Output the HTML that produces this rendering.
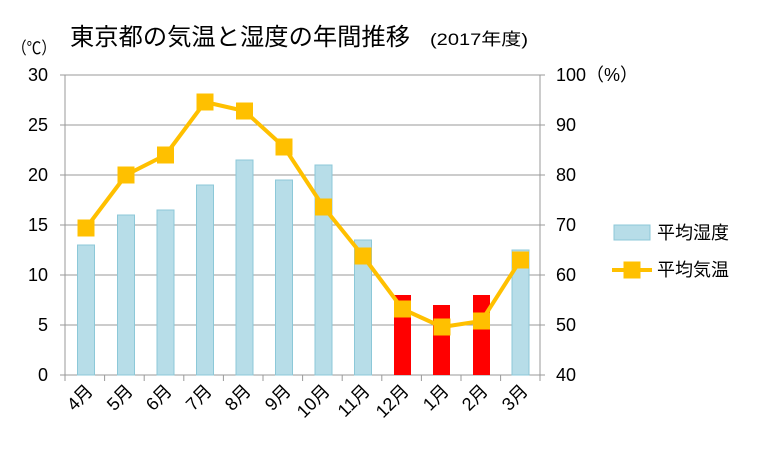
<!DOCTYPE html>
<html><head><meta charset="utf-8"><style>body{margin:0;background:#fff}svg{display:block}text{font-family:"Liberation Sans","Noto Sans CJK JP",sans-serif;fill:#000}</style></head><body>
<svg width="763" height="451" viewBox="0 0 763 451">
<text x="70" y="45" font-size="24" textLength="340" lengthAdjust="spacingAndGlyphs">東京都の気温と湿度の年間推移</text>
<text x="430" y="45" font-size="17" textLength="98" lengthAdjust="spacingAndGlyphs">(2017年度)</text>
<text x="12" y="54" font-size="17" textLength="44" lengthAdjust="spacingAndGlyphs">（℃）</text>
<g stroke="#999" stroke-width="1">
<line x1="65" y1="75" x2="540" y2="75"/><line x1="65" y1="125" x2="540" y2="125"/><line x1="65" y1="175" x2="540" y2="175"/><line x1="65" y1="225" x2="540" y2="225"/><line x1="65" y1="275" x2="540" y2="275"/><line x1="65" y1="325" x2="540" y2="325"/><line x1="65" y1="375" x2="540" y2="375"/>
<line x1="65" y1="75" x2="65" y2="375"/><line x1="540" y1="75" x2="540" y2="375"/>
<line x1="60" y1="75" x2="65" y2="75"/><line x1="60" y1="125" x2="65" y2="125"/><line x1="60" y1="175" x2="65" y2="175"/><line x1="60" y1="225" x2="65" y2="225"/><line x1="60" y1="275" x2="65" y2="275"/><line x1="60" y1="325" x2="65" y2="325"/><line x1="60" y1="375" x2="65" y2="375"/>
<line x1="540" y1="75" x2="545" y2="75"/><line x1="540" y1="125" x2="545" y2="125"/><line x1="540" y1="175" x2="545" y2="175"/><line x1="540" y1="225" x2="545" y2="225"/><line x1="540" y1="275" x2="545" y2="275"/><line x1="540" y1="325" x2="545" y2="325"/><line x1="540" y1="375" x2="545" y2="375"/>
<line x1="65" y1="375" x2="65" y2="381"/><line x1="104.6" y1="375" x2="104.6" y2="381"/><line x1="144.2" y1="375" x2="144.2" y2="381"/><line x1="183.8" y1="375" x2="183.8" y2="381"/><line x1="223.4" y1="375" x2="223.4" y2="381"/><line x1="263" y1="375" x2="263" y2="381"/><line x1="302.6" y1="375" x2="302.6" y2="381"/><line x1="342.2" y1="375" x2="342.2" y2="381"/><line x1="381.8" y1="375" x2="381.8" y2="381"/><line x1="421.4" y1="375" x2="421.4" y2="381"/><line x1="461" y1="375" x2="461" y2="381"/><line x1="500.6" y1="375" x2="500.6" y2="381"/><line x1="540" y1="375" x2="540" y2="381"/>
</g>
<g font-size="18" text-anchor="end">
<text x="48" y="81">30</text><text x="48" y="131">25</text><text x="48" y="181">20</text><text x="48" y="231">15</text><text x="48" y="281">10</text><text x="48" y="331">5</text><text x="48" y="381">0</text>
</g>
<g font-size="18">
<text x="556" y="81">100（%）</text><text x="556" y="131">90</text><text x="556" y="181">80</text><text x="556" y="231">70</text><text x="556" y="281">60</text><text x="556" y="331">50</text><text x="556" y="381">40</text>
</g>
<g fill="#b7dde8" stroke="#8cc8d8" stroke-width="1">
<rect x="77.5" y="245" width="17" height="130"/><rect x="117.5" y="215" width="17" height="160"/><rect x="157" y="210" width="17" height="165"/><rect x="196.5" y="185" width="17" height="190"/><rect x="236" y="160" width="17" height="215"/><rect x="275.5" y="180" width="17" height="195"/><rect x="315" y="165" width="17" height="210"/><rect x="354.5" y="240" width="17" height="135"/><rect x="512" y="250" width="17" height="125"/>
</g>
<g fill="#ff0000">
<rect x="394" y="295" width="17" height="80"/><rect x="433" y="305" width="17" height="70"/><rect x="473" y="295" width="17" height="80"/>
</g>
<polyline fill="none" stroke="#ffc000" stroke-width="4" stroke-linejoin="round" points="86,228 126,175 165.5,155 205,102 244.5,111 284,147 323.5,207 363,256 402.5,309 442,327 481.5,321 520.5,260"/>
<g fill="#ffc000">
<rect x="77.5" y="219.5" width="17" height="17"/><rect x="117.5" y="166.5" width="17" height="17"/><rect x="157" y="146.5" width="17" height="17"/><rect x="196.5" y="93.5" width="17" height="17"/><rect x="236" y="102.5" width="17" height="17"/><rect x="275.5" y="138.5" width="17" height="17"/><rect x="315" y="198.5" width="17" height="17"/><rect x="354.5" y="247.5" width="17" height="17"/><rect x="394" y="300.5" width="17" height="17"/><rect x="433.5" y="318.5" width="17" height="17"/><rect x="473" y="312.5" width="17" height="17"/><rect x="512" y="251.5" width="17" height="17"/>
</g>
<g font-size="18" text-anchor="end">
<text transform="translate(94,392) rotate(-45)">4月</text>
<text transform="translate(134,392) rotate(-45)">5月</text>
<text transform="translate(173,392) rotate(-45)">6月</text>
<text transform="translate(213,392) rotate(-45)">7月</text>
<text transform="translate(252,392) rotate(-45)">8月</text>
<text transform="translate(292,392) rotate(-45)">9月</text>
<text transform="translate(331,392) rotate(-45)">10月</text>
<text transform="translate(371,392) rotate(-45)">11月</text>
<text transform="translate(410,392) rotate(-45)">12月</text>
<text transform="translate(450,392) rotate(-45)">1月</text>
<text transform="translate(489,392) rotate(-45)">2月</text>
<text transform="translate(529,392) rotate(-45)">3月</text>
</g>
<rect x="614" y="225" width="36" height="15" fill="#b7dde8" stroke="#8cc8d8"/>
<text x="657" y="239" font-size="18">平均湿度</text>
<line x1="612" y1="270" x2="652" y2="270" stroke="#ffc000" stroke-width="4"/>
<rect x="623.5" y="261.5" width="17" height="17" fill="#ffc000"/>
<text x="657" y="276" font-size="18">平均気温</text>
</svg>
</body></html>
